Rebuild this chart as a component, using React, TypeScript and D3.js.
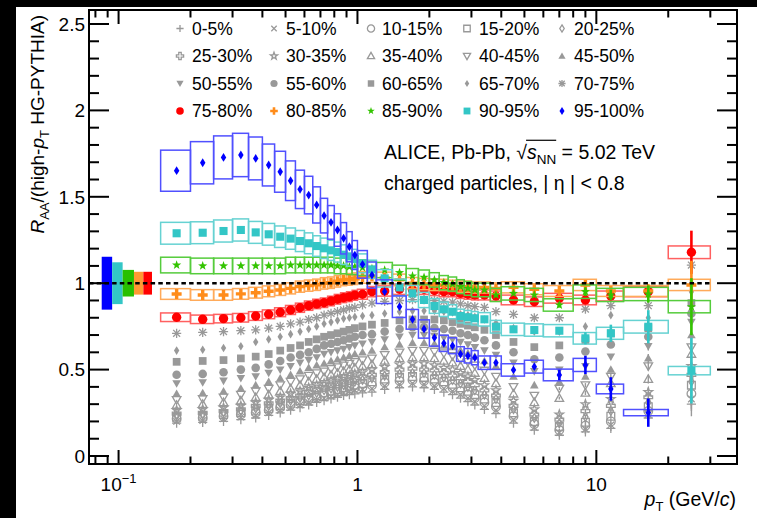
import React, { useLayoutEffect, useRef, useState } from "react";
import * as d3 from "d3";

const FONT = "'Liberation Sans', Arial, Helvetica, sans-serif";

// pT bin edges (GeV/c); points sit at the bin centres
const ptEdges = [
  0.15, 0.2, 0.25, 0.3, 0.35, 0.4, 0.45, 0.5, 0.55, 0.6, 0.65, 0.7, 0.75, 0.8, 0.85, 0.9, 0.95, 1.0,
  1.1, 1.2, 1.4, 1.6, 1.8, 2.0, 2.2, 2.4, 2.6, 2.8, 3.0, 3.2, 3.6, 4.0, 5, 6, 8, 10, 13, 20, 30,
];

const centralityLabels = [
  "0-5%", "5-10%", "10-15%", "15-20%", "20-25%",
  "25-30%", "30-35%", "35-40%", "40-45%", "45-50%",
  "50-55%", "55-60%", "60-65%", "65-70%", "70-75%",
  "75-80%", "80-85%", "85-90%", "90-95%", "95-100%",
];

// R_AA / (high-pT HG-PYTHIA) per centrality class
const raa0005 = [0.19,0.195,0.2,0.21,0.22,0.235,0.25,0.265,0.28,0.295,0.31,0.32,0.33,0.34,0.35,0.355,0.36,0.365,0.37,0.385,0.395,0.4,0.395,0.385,0.37,0.355,0.335,0.315,0.295,0.27,0.245,0.19,0.15,0.12,0.14,0.16,0.22,0.3];
const raa0510 = [0.2,0.205,0.215,0.225,0.235,0.25,0.265,0.28,0.295,0.31,0.325,0.335,0.345,0.355,0.365,0.375,0.38,0.385,0.39,0.405,0.415,0.42,0.415,0.405,0.39,0.375,0.355,0.335,0.315,0.29,0.265,0.21,0.165,0.135,0.155,0.18,0.24,0.33];
const raa1015 = [0.215,0.22,0.23,0.24,0.25,0.265,0.28,0.295,0.31,0.325,0.34,0.35,0.36,0.37,0.38,0.39,0.395,0.4,0.41,0.425,0.435,0.44,0.435,0.425,0.41,0.395,0.375,0.355,0.335,0.31,0.285,0.23,0.185,0.15,0.175,0.2,0.26,0.36];
const raa1520 = [0.225,0.23,0.24,0.25,0.26,0.275,0.29,0.305,0.32,0.335,0.35,0.365,0.375,0.385,0.395,0.405,0.41,0.42,0.43,0.445,0.455,0.46,0.455,0.445,0.43,0.415,0.395,0.375,0.355,0.33,0.31,0.25,0.2,0.17,0.195,0.23,0.285,0.41];
const raa2025 = [0.235,0.24,0.25,0.26,0.275,0.29,0.305,0.32,0.335,0.35,0.365,0.38,0.39,0.4,0.41,0.42,0.43,0.44,0.45,0.465,0.475,0.48,0.48,0.47,0.455,0.44,0.42,0.4,0.38,0.355,0.33,0.27,0.22,0.19,0.225,0.26,0.31,0.43];
const raa2530 = [0.245,0.25,0.26,0.27,0.29,0.305,0.32,0.335,0.35,0.37,0.385,0.4,0.41,0.42,0.43,0.44,0.45,0.46,0.47,0.485,0.5,0.505,0.5,0.495,0.48,0.465,0.45,0.43,0.41,0.38,0.35,0.29,0.24,0.21,0.26,0.29,0.34,0.47];
const raa3035 = [0.265,0.27,0.28,0.29,0.31,0.325,0.34,0.36,0.375,0.395,0.41,0.42,0.435,0.445,0.455,0.465,0.475,0.485,0.5,0.515,0.53,0.535,0.535,0.525,0.51,0.5,0.48,0.46,0.44,0.41,0.38,0.32,0.27,0.24,0.3,0.33,0.37,0.52];
const raa3540 = [0.295,0.3,0.31,0.32,0.34,0.355,0.375,0.39,0.41,0.43,0.445,0.455,0.47,0.48,0.49,0.5,0.51,0.52,0.53,0.55,0.565,0.57,0.57,0.565,0.55,0.54,0.52,0.5,0.48,0.45,0.42,0.36,0.31,0.335,0.365,0.42,0.445,0.59];
const raa4045 = [0.325,0.33,0.34,0.355,0.375,0.39,0.41,0.43,0.445,0.465,0.48,0.49,0.505,0.515,0.525,0.535,0.545,0.555,0.565,0.585,0.6,0.61,0.61,0.605,0.595,0.58,0.56,0.545,0.525,0.495,0.46,0.4,0.35,0.39,0.41,0.46,0.52,0.63];
const raa4550 = [0.36,0.365,0.375,0.39,0.41,0.43,0.45,0.47,0.49,0.51,0.525,0.535,0.55,0.56,0.57,0.58,0.59,0.6,0.61,0.63,0.645,0.655,0.655,0.65,0.64,0.63,0.61,0.595,0.575,0.55,0.52,0.46,0.41,0.43,0.46,0.5,0.565,0.7];
const raa5055 = [0.42,0.425,0.435,0.45,0.46,0.48,0.5,0.52,0.54,0.555,0.57,0.59,0.6,0.61,0.62,0.63,0.64,0.65,0.66,0.675,0.69,0.7,0.7,0.695,0.685,0.675,0.66,0.645,0.63,0.61,0.585,0.54,0.49,0.5,0.52,0.575,0.635,0.775];
const raa5560 = [0.47,0.475,0.485,0.5,0.51,0.53,0.55,0.57,0.585,0.6,0.62,0.64,0.65,0.66,0.67,0.68,0.69,0.7,0.705,0.72,0.735,0.745,0.745,0.74,0.735,0.725,0.71,0.7,0.685,0.67,0.64,0.6,0.56,0.57,0.605,0.645,0.69,0.825];
const raa6065 = [0.545,0.55,0.555,0.565,0.575,0.59,0.61,0.625,0.64,0.66,0.675,0.69,0.7,0.71,0.72,0.73,0.74,0.75,0.76,0.77,0.785,0.79,0.79,0.79,0.785,0.775,0.765,0.755,0.745,0.73,0.7,0.66,0.63,0.64,0.67,0.71,0.74,0.885];
const raa6570 = [0.61,0.615,0.625,0.635,0.66,0.675,0.69,0.705,0.72,0.735,0.75,0.765,0.775,0.785,0.795,0.8,0.805,0.81,0.815,0.825,0.835,0.84,0.84,0.84,0.835,0.83,0.82,0.815,0.805,0.79,0.77,0.74,0.72,0.72,0.75,0.815,0.8,0.95];
const raa7075 = [0.71,0.715,0.72,0.725,0.73,0.74,0.75,0.765,0.775,0.79,0.8,0.815,0.825,0.835,0.845,0.855,0.86,0.875,0.885,0.895,0.9,0.905,0.905,0.9,0.895,0.89,0.88,0.87,0.865,0.86,0.835,0.82,0.8,0.8,0.85,0.87,0.87,1.105];
const raa7580 = [0.803,0.791,0.795,0.8,0.81,0.82,0.832,0.845,0.858,0.87,0.88,0.887,0.897,0.907,0.916,0.922,0.93,0.936,0.951,0.955,0.965,0.961,0.965,0.958,0.951,0.951,0.941,0.936,0.932,0.932,0.926,0.903,0.893,0.913,0.903,0.926,0.951,1.179];
const raa8085 = [0.9375,0.932,0.932,0.938,0.945,0.953,0.961,0.97,0.98,0.986,0.991,0.999,1.003,1.011,1.019,1.022,1.026,1.034,1.04,1.03,1.019,1.0,0.995,0.99,0.99,0.985,0.98,0.98,0.975,0.975,0.97,0.976,0.965,0.955,0.99,0.955,0.955,0.99];
const raa8590 = [1.105,1.1,1.1,1.1,1.1,1.1,1.1,1.105,1.105,1.105,1.105,1.105,1.105,1.1,1.1,1.095,1.095,1.09,1.085,1.076,1.061,1.042,1.034,1.019,1.003,0.995,0.98,0.97,0.961,0.961,0.932,0.941,0.932,0.874,0.951,0.932,0.9375,0.864];
const raa9095 = [1.289,1.292,1.302,1.308,1.294,1.283,1.269,1.258,1.244,1.231,1.215,1.202,1.19,1.18,1.165,1.155,1.14,1.115,1.08,1.028,0.976,0.941,0.903,0.868,0.849,0.835,0.81,0.803,0.797,0.791,0.748,0.733,0.729,0.725,0.681,0.71,0.748,0.494];
const raa95100 = [1.651,1.697,1.728,1.742,1.722,1.684,1.645,1.593,1.543,1.51,1.453,1.391,1.352,1.308,1.26,1.211,1.163,1.109,1.047,0.951,0.864,0.791,0.735,0.685,0.652,0.638,0.59,0.58,0.569,0.54,0.54,0.498,0.517,0.469,0.527,0.388,0.251];

// relative systematic uncertainty (boxes), peripheral classes 75-80% .. 95-100%
const sysRel = [0.031, 0.033, 0.041, 0.049, 0.072];

// statistical errors on the highest pT bins
const statBins = [33, 34, 35, 36, 37];
const statGray = [0.008, 0.012, 0.015, 0.025, 0.07];
const stat7580 = [0.01, 0.015, 0.02, 0.03, 0.125];
const stat8085 = [0.012, 0.02, 0.025, 0.04, 0.14];
const stat8590 = [0.015, 0.025, 0.03, 0.05, 0.165];
const stat9095 = [0.02, 0.035, 0.05, 0.096, 0.19];
const stat95100 = [0.03, 0.053, 0.068, 0.082];

// normalisation uncertainty boxes at unity (95-100%, 90-95%, 85-90%, 80-85%, 75-80%)
const normUnc = [0.153, 0.121, 0.077, 0.066, 0.066];
const normEdges = [0.085, 0.094, 0.104, 0.116, 0.127, 0.138];

const allValues = [
  raa0005, raa0510, raa1015, raa1520, raa2025, raa2530, raa3035, raa3540, raa4045, raa4550,
  raa5055, raa5560, raa6065, raa6570, raa7075, raa7580, raa8085, raa8590, raa9095, raa95100,
];
const coloredStat = [stat7580, stat8085, stat8590, stat9095, stat95100];

const shapes = [
  "plus", "xcross", "circleO", "squareO", "diamondO",
  "crossO", "starO", "triUpO", "triDownO", "triUp",
  "triDown", "circle", "square", "diamond", "asterisk",
  "circle", "crossF", "star", "square", "diamond",
];
const GRAY = "#999999";
const markerColors = ["#ff0000", "#ff8c1a", "#33c400", "#33c6c6", "#0000ff"];
const boxColors = ["#ff6060", "#ffaa5a", "#55cc3c", "#66d2d2", "#5050ff"];
const normColors = ["#0000ff", "#33c6c6", "#28c000", "#ff9933", "#ff0000"];

const W = 757;
const H = 518;
const x = d3.scaleLog().domain([0.0752, 38.8]).range([89, 737]);
const y = d3.scaleLinear().domain([-0.0463, 2.581]).range([464, 10]);

const centres = ptEdges.slice(0, -1).map((e, i) => (e + ptEdges[i + 1]) / 2);

function starPath(ro: number, ri: number) {
  const pts: string[] = [];
  for (let k = 0; k < 10; k++) {
    const a = -Math.PI / 2 + (k * Math.PI) / 5;
    const rr = k % 2 === 0 ? ro : ri;
    pts.push(`${(rr * Math.cos(a)).toFixed(2)},${(rr * Math.sin(a)).toFixed(2)}`);
  }
  return "M" + pts.join("L") + "Z";
}

function crossPath(r: number) {
  const a = r * 0.34;
  const p = [[-a, -r], [a, -r], [a, -a], [r, -a], [r, a], [a, a], [a, r], [-a, r], [-a, a], [-r, a], [-r, -a], [-a, -a]];
  return "M" + p.map((q) => q.join(",")).join("L") + "Z";
}

function shapePath(shape: string, r: number): { d: string; filled: boolean } {
  const c = r * 0.75;
  switch (shape) {
    case "plus":
      return { d: `M${-r},0H${r}M0,${-r}V${r}`, filled: false };
    case "xcross":
      return { d: `M${-c},${-c}L${c},${c}M${-c},${c}L${c},${-c}`, filled: false };
    case "asterisk":
      return { d: `M${-r},0H${r}M0,${-r}V${r}M${-c},${-c}L${c},${c}M${-c},${c}L${c},${-c}`, filled: false };
    case "circleO":
    case "circle":
      return { d: `M${r},0A${r},${r} 0 1,1 ${-r},0A${r},${r} 0 1,1 ${r},0Z`, filled: shape === "circle" };
    case "squareO":
    case "square": {
      const s = r * 0.9;
      return { d: `M${-s},${-s}H${s}V${s}H${-s}Z`, filled: shape === "square" };
    }
    case "diamondO":
    case "diamond": {
      const w = r * 0.62;
      return { d: `M0,${-r}L${w},0L0,${r}L${-w},0Z`, filled: shape === "diamond" };
    }
    case "crossO":
    case "crossF":
      return { d: crossPath(r), filled: shape === "crossF" };
    case "starO":
    case "star":
      return { d: starPath(r * 1.05, r * 0.42), filled: shape === "star" };
    case "triUpO":
    case "triUp":
      return { d: `M0,${-r}L${r},${r * 0.75}L${-r},${r * 0.75}Z`, filled: shape === "triUp" };
    case "triDownO":
    case "triDown":
      return { d: `M0,${r}L${r},${-r * 0.75}L${-r},${-r * 0.75}Z`, filled: shape === "triDown" };
    default:
      return { d: "", filled: false };
  }
}

function Marker({ shape, cx, cy, r, color }: { shape: string; cx: number; cy: number; r: number; color: string }) {
  const { d, filled } = shapePath(shape, r);
  return (
    <path
      d={d}
      transform={`translate(${cx.toFixed(2)},${cy.toFixed(2)})`}
      fill={filled ? color : "none"}
      stroke={filled ? "none" : color}
      strokeWidth={1.3}
    />
  );
}

function dataRadius(i: number) {
  if (i < 15) return shapes[i] === "plus" || shapes[i] === "asterisk" ? 4.6 : 4.3;
  return [4.7, 5.0, 4.6, 4.5, 4.4][i - 15];
}

function GraySeries({ idx }: { idx: number }) {
  const vals = allValues[idx];
  return (
    <g>
      {statBins.map((b, k) => (
        <line key={"e" + k} x1={x(centres[b])} x2={x(centres[b])} y1={y(vals[b] - statGray[k])} y2={y(vals[b] + statGray[k])} stroke={GRAY} strokeWidth={1.4} />
      ))}
      {vals.map((v, i) => (
        <Marker key={i} shape={shapes[idx]} cx={x(centres[i])} cy={y(v)} r={dataRadius(idx)} color={GRAY} />
      ))}
    </g>
  );
}

function ColoredSeries({ k }: { k: number }) {
  const idx = 15 + k;
  const vals = allValues[idx];
  const s = sysRel[k];
  const stat = coloredStat[k];
  return (
    <g>
      {vals.map((v, i) => (
        <rect
          key={"b" + i}
          x={x(ptEdges[i])}
          width={x(ptEdges[i + 1]) - x(ptEdges[i])}
          y={y(v * (1 + s))}
          height={y(v * (1 - s)) - y(v * (1 + s))}
          fill="none"
          stroke={boxColors[k]}
          strokeWidth={1.5}
        />
      ))}
      {stat.map((e, j) => {
        const b = statBins[j];
        if (b >= vals.length) return null;
        return (
          <line key={"e" + j} x1={x(centres[b])} x2={x(centres[b])} y1={y(vals[b] - e)} y2={y(vals[b] + e)} stroke={markerColors[k]} strokeWidth={2.6} />
        );
      })}
      {vals.map((v, i) => (
        <Marker key={i} shape={shapes[idx]} cx={x(centres[i])} cy={y(v)} r={dataRadius(idx)} color={markerColors[k]} />
      ))}
    </g>
  );
}

const legendMarkerX = [180, 274, 371, 467, 562];
const legendTextX = [192, 286, 382, 479, 574];
const legendRowY = [28.5, 56, 83.5, 111];
const LEGEND_FS = 17.5;

function Legend() {
  return (
    <g>
      {centralityLabels.map((lab, i) => {
        const col = i % 5;
        const row = Math.floor(i / 5);
        const color = i < 15 ? GRAY : markerColors[i - 15];
        const r = i < 15 ? 3.6 : i === 19 ? 4 : 3.8;
        return (
          <g key={lab}>
            <Marker shape={shapes[i]} cx={legendMarkerX[col]} cy={legendRowY[row]} r={r} color={color} />
            <text x={legendTextX[col]} y={legendRowY[row] + LEGEND_FS * 0.36} fontSize={LEGEND_FS} fontFamily={FONT} fill="#000">
              {lab}
            </text>
          </g>
        );
      })}
    </g>
  );
}

function SqrtLabel() {
  const ref = useRef<SVGTextElement>(null);
  const [bar, setBar] = useState<[number, number] | null>(null);
  useLayoutEffect(() => {
    const t = ref.current;
    if (!t) return;
    const txt = t.textContent || "";
    const i0 = txt.indexOf("\u221A");
    const i1 = txt.indexOf("NN") + 1;
    try {
      const e0 = t.getExtentOfChar(i0);
      const e1 = t.getExtentOfChar(i1);
      setBar([e0.x + e0.width * 0.92, e1.x + e1.width]);
    } catch {
      setBar(null);
    }
  }, []);
  const fs = 19.5;
  return (
    <g transform="translate(384,159)">
      <text ref={ref} x={0} y={0} fontSize={fs} fontFamily={FONT}>
        ALICE, Pb-Pb, {"\u221A"}
        <tspan fontStyle="italic">s</tspan>
        <tspan fontSize={13.5} dy={4.5}>NN</tspan>
        <tspan dy={-4.5}> = 5.02 TeV</tspan>
      </text>
      {bar && <line x1={bar[0]} x2={bar[1]} y1={-fs * 0.96} y2={-fs * 0.96} stroke="#000" strokeWidth={1.2} />}
    </g>
  );
}

export default function App() {
  const yMinor = d3.range(0, 26).map((k) => k / 10);
  const xMajor = [0.1, 1, 10];
  const xMinor = [0.08, 0.09, 0.2, 0.3, 0.4, 0.5, 0.6, 0.7, 0.8, 0.9, 2, 3, 4, 5, 6, 7, 8, 9, 20, 30];
  const [L, R, T, B] = [89, 737, 10, 464];
  const TICK_FS = 19;

  return (
    <svg width={W} height={H} style={{ position: "absolute", left: 0, top: 0, display: "block" }} xmlns="http://www.w3.org/2000/svg">
      <rect x={0} y={0} width={W} height={H} fill="#000" />
      <rect x={16} y={7} width={W - 16} height={H - 7} fill="#fff" />

      {/* normalisation uncertainty boxes around unity */}
      {normUnc.map((u, i) => (
        <rect key={"n" + i} x={x(normEdges[i])} width={x(normEdges[i + 1]) - x(normEdges[i])} y={y(1 + u)} height={y(1 - u) - y(1 + u)} fill={normColors[i]} />
      ))}

      {d3.range(0, 15).map((i) => (
        <GraySeries key={"g" + i} idx={i} />
      ))}
      {d3.range(0, 5).map((k) => (
        <ColoredSeries key={"c" + k} k={k} />
      ))}

      <line x1={x(0.0752)} x2={x(30)} y1={y(1)} y2={y(1)} stroke="#000" strokeWidth={2.4} strokeDasharray="4.5,3.2" />

      {/* frame and ticks */}
      <rect x={L} y={T} width={R - L} height={B - T} fill="none" stroke="#000" strokeWidth={2} />
      {yMinor.map((v, k) => {
        const len = k % 5 === 0 ? 20 : 10;
        const yy = y(v);
        return (
          <g key={"yt" + k}>
            <line x1={L} x2={L + len} y1={yy} y2={yy} stroke="#000" strokeWidth={2} />
            <line x1={R - len} x2={R} y1={yy} y2={yy} stroke="#000" strokeWidth={2} />
          </g>
        );
      })}
      {[...xMajor.map((v) => [v, 14]), ...xMinor.map((v) => [v, 7.5])].map(([v, len], k) => {
        const xx = x(v);
        return (
          <g key={"xt" + k}>
            <line x1={xx} x2={xx} y1={B} y2={B - len} stroke="#000" strokeWidth={2} />
            <line x1={xx} x2={xx} y1={T} y2={T + len} stroke="#000" strokeWidth={2} />
          </g>
        );
      })}

      {/* tick labels */}
      {[0, 0.5, 1, 1.5, 2, 2.5].map((v) => (
        <text key={"yl" + v} x={85} y={y(v) + TICK_FS * 0.36} fontSize={TICK_FS} fontFamily={FONT} textAnchor="end">
          {String(v)}
        </text>
      ))}
      <text x={x(0.1)} y={491} fontSize={TICK_FS} fontFamily={FONT} textAnchor="middle">
        10<tspan fontSize={13} dy={-8}>{"\u22121"}</tspan>
      </text>
      <text x={x(1)} y={491} fontSize={TICK_FS} fontFamily={FONT} textAnchor="middle">1</text>
      <text x={x(10)} y={491} fontSize={TICK_FS} fontFamily={FONT} textAnchor="middle">10</text>

      {/* axis titles */}
      <text x={736} y={506} fontSize={19.5} fontFamily={FONT} textAnchor="end">
        <tspan fontStyle="italic">p</tspan>
        <tspan fontSize={13} dy={5}>T</tspan>
        <tspan dy={-5}> (GeV/</tspan>
        <tspan fontStyle="italic">c</tspan>
        <tspan>)</tspan>
      </text>
      <text transform="translate(44,15) rotate(-90)" fontSize={19} fontFamily={FONT} textAnchor="end">
        <tspan fontStyle="italic">R</tspan>
        <tspan fontSize={13} dy={4.5}>AA</tspan>
        <tspan dy={-4.5}>/(high-</tspan>
        <tspan fontStyle="italic">p</tspan>
        <tspan fontSize={13} dy={4.5}>T</tspan>
        <tspan dy={-4.5}> HG-PYTHIA)</tspan>
      </text>

      <Legend />
      <SqrtLabel />
      <text x={384} y={190} fontSize={19.5} fontFamily={FONT}>
        charged particles, | {"\u03B7"} | &lt; 0.8
      </text>
    </svg>
  );
}
